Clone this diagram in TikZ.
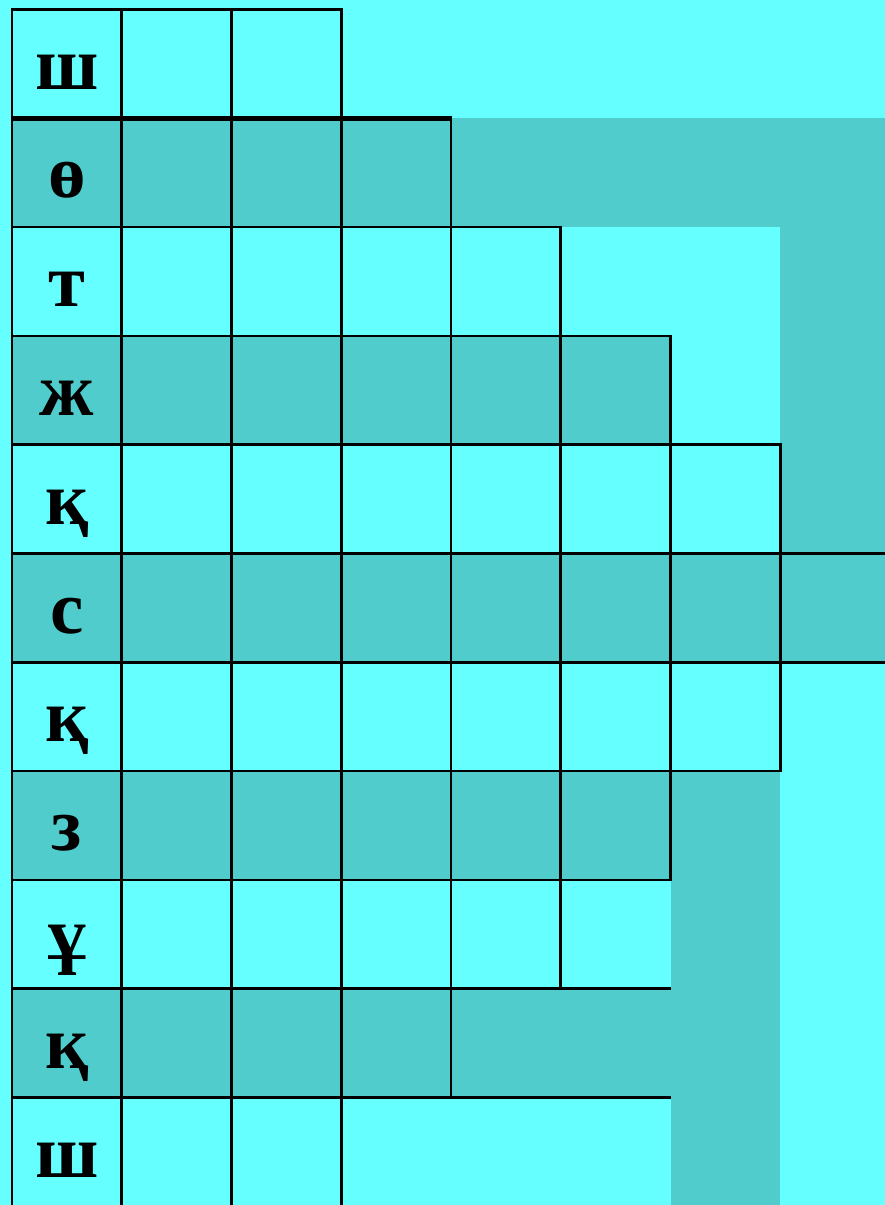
\documentclass[tikz,border=0pt]{standalone}
\usepackage{fontspec}
\setmainfont{Liberation Serif}
\definecolor{lightc}{HTML}{66FFFF}
\definecolor{darkc}{HTML}{50CCCC}
\tikzset{
  gridline/.style={draw=black, line width=2.6pt},
  letter/.style={font=\fontsize{75}{80}\selectfont\bfseries, anchor=base, inner sep=0pt}
}
\begin{document}
\begin{tikzpicture}[x=1pt,y=-1pt]
\useasboundingbox (0,0) rectangle (885,1205);
\clip (0,0) rectangle (885,1205);
\fill[lightc] (0,0) rectangle (885,1205);
% dark bands
\fill[darkc] (12,118.3) rectangle (780.25,227.1);
\fill[darkc] (780.25,118.3) rectangle (885,553.5);
\fill[darkc] (12,335.9) rectangle (670.5,444.7);
\fill[darkc] (12,553.5) rectangle (890,662.3);
\fill[darkc] (12,771.1) rectangle (670.5,879.9);
\fill[darkc] (670.5,771.1) rectangle (780.25,1210);
\fill[darkc] (12,988.7) rectangle (670.5,1097.5);
% cells
\foreach \r/\n in {0/3,1/4,2/5,3/6,4/7,5/8,6/7,7/6,8/5,9/4,10/3}{
  \foreach \c in {1,...,\n}{
    \pgfmathsetmacro{\xa}{12+(\c-1)*109.75}
    \pgfmathsetmacro{\ya}{9.5+\r*108.8}
    \draw[gridline] (\xa,\ya) rectangle ++(109.75,108.8);
  }
}
\draw[gridline] (560.75,988.7) -- (670.5,988.7);
\draw[gridline] (451,1097.5) -- (670.5,1097.5);
\draw[draw=black, line width=5pt] (10.7,118.3) -- (452.3,118.3);
% letters
\foreach \r/\t in {0/ш,1/ө,2/т,3/ж,4/қ,5/с,6/қ,7/з,8/ұ,9/қ,10/ш}{
  \pgfmathsetmacro{\yb}{9.5+\r*108.8+79.5}
  \node[letter] (L\r) at (67,\yb) {\t};
}
\end{tikzpicture}
\end{document}
